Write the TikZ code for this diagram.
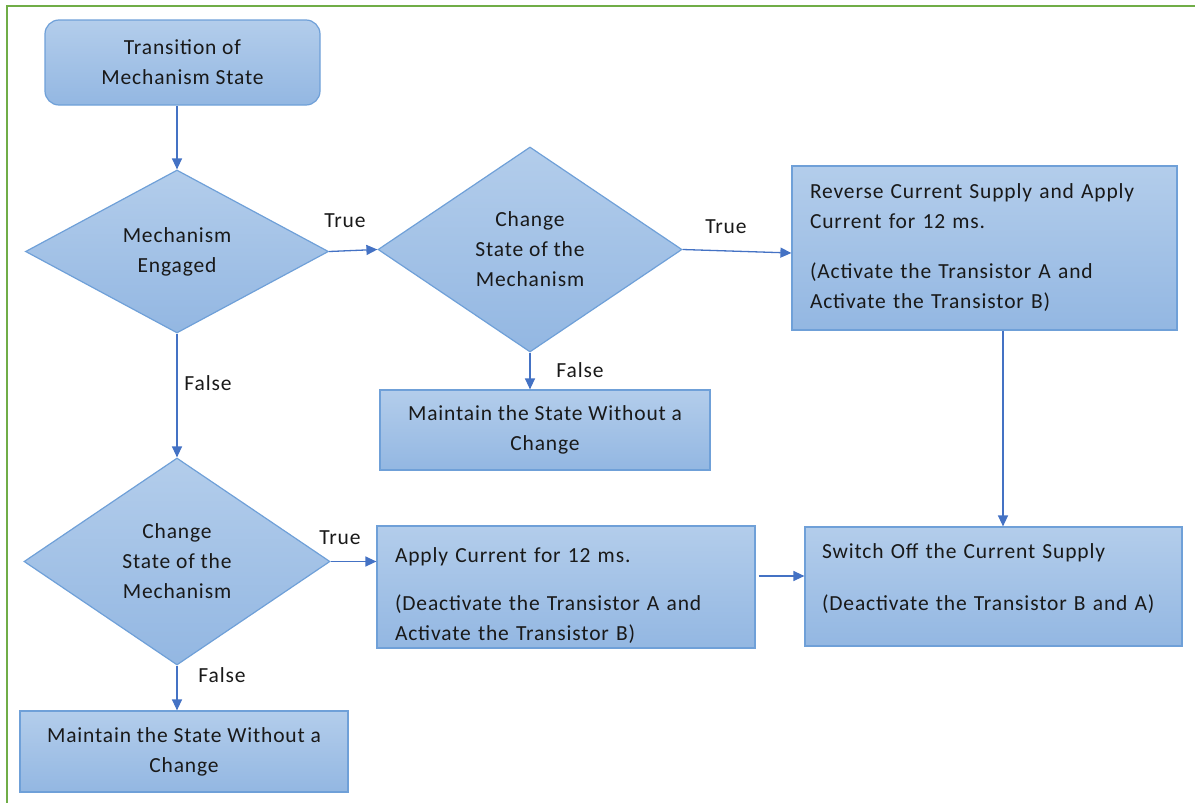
\documentclass[tikz,border=0pt]{standalone}
\usepackage{fontspec}
\setmainfont[LetterSpace=4]{Carlito}
\usetikzlibrary{shapes.geometric,arrows.meta}
\definecolor{boxtop}{HTML}{B3CDEB}
\definecolor{boxbot}{HTML}{93B7E2}
\definecolor{boxline}{HTML}{6FA0D8}
\definecolor{arr}{HTML}{4472C4}
\definecolor{frame}{HTML}{70AD47}
\tikzset{
  every node/.style={font=\fontsize{21.5}{30}\selectfont, text=black!90},
  fillbox/.style={draw=boxline, line width=1.2pt, top color=boxtop, bottom color=boxbot, inner sep=0pt},
  procbox/.style={fillbox, rectangle},
  startbox/.style={fillbox, rounded corners=14pt, align=center},
  decision/.style={fillbox, diamond, align=center},
  flow/.style={draw=arr, line width=1.3pt, -{Triangle[length=11pt,width=10pt]}},
  lbl/.style={inner sep=1pt}
}
\begin{document}
\begin{tikzpicture}[x=1pt,y=-1pt]
\useasboundingbox (0,0) rectangle (1195,803);
\begin{scope}
\clip (0,0) rectangle (1195,803);
\draw[frame, line width=1.8pt] (7,6) rectangle (1205,815);
\end{scope}

\node[startbox, minimum width=275, minimum height=85] (start) at (182.5,62.5) {Transition of\\Mechanism State};

\node[decision, minimum width=303, minimum height=163] (d1) at (177,251.5) {Mechanism\\Engaged};
\node[decision, minimum width=304, minimum height=205] (d2) at (530,249.5) {Change\\State of the\\Mechanism};
\node[decision, minimum width=306, minimum height=207] (d3) at (177,561.5) {Change\\State of the\\Mechanism};

\node[procbox, minimum width=385, minimum height=164, text width=349, align=left] (rev) at (984.5,248)
  {Reverse Current Supply and Apply\\Current for 12 ms.\\[20pt](Activate the Transistor A and\\Activate the Transistor B)};
\node[procbox, minimum width=330, minimum height=80, align=center] (m2) at (545,430)
  {Maintain the State Without a\\Change};
\node[procbox, minimum width=378, minimum height=122, text width=342, align=left] (apply) at (566,587)
  {\rule{0pt}{32pt}Apply Current for 12 ms.\\[18pt](Deactivate the Transistor A and\\Activate the Transistor B)};
\node[procbox, minimum width=377, minimum height=119, text width=343, align=left] (off) at (993.5,586.5)
  {Switch Off the Current Supply\\[22pt](Deactivate the Transistor B and A)\rule[-19pt]{0pt}{1pt}};
\node[procbox, minimum width=328, minimum height=81, align=center] (m1) at (184,751.5)
  {Maintain the State Without a\\Change};

\draw[flow] (start.south -| d1.north) -- (d1.north);
\draw[flow] (d1.east) -- (d2.west);
\draw[flow] (d2.east) -- (rev.west |- 0,253);
\draw[flow] (d2.south) -- (d2.south |- m2.north);
\draw[flow] (rev.south -| 1003,0) -- (off.north -| 1003,0);
\draw[flow] (d1.south) -- (d3.north);
\draw[flow] (d3.east) -- (apply.west |- d3.east);
\draw[flow] (apply.east |- 0,576) ++(3,0) coordinate (ae) -- (off.west |- ae);
\draw[flow] (d3.south) -- (d3.south |- m1.north);

\node[lbl] (t1) at (345,221) {True};
\node[lbl] (t2) at (726,227) {True};
\node[lbl] (t3) at (340,538) {True};
\node[lbl] (f1) at (208,383) {False};
\node[lbl] (f2) at (580,370) {False};
\node[lbl] (f3) at (222,675) {False};
\end{tikzpicture}
\end{document}
